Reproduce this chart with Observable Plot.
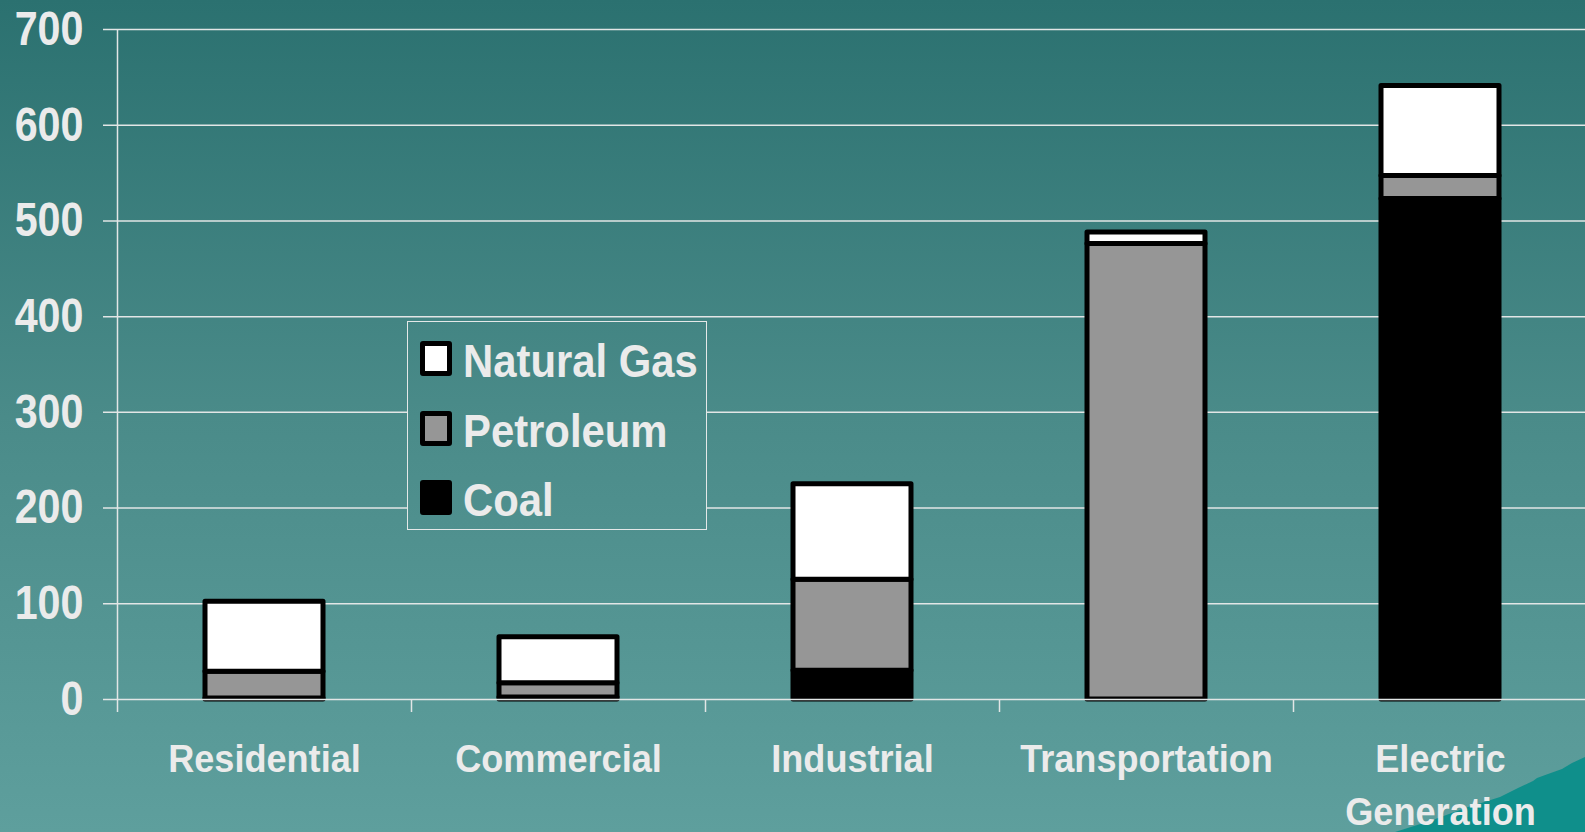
<!DOCTYPE html>
<html>
<head>
<meta charset="utf-8">
<script src="https://cdn.jsdelivr.net/npm/d3@7"></script>
<script src="https://cdn.jsdelivr.net/npm/@observablehq/plot@0.6"></script>
<style>
  html, body { margin: 0; padding: 0; }
  body {
    width: 1585px; height: 832px; overflow: hidden; position: relative;
    background: linear-gradient(180deg, #2b7170 0%, #4a8b89 50%, #5e9f9d 100%);
    background-attachment: fixed;
    font-family: "Liberation Sans", Arial, sans-serif;
  }
  #deco { position: absolute; left: 0; top: 0; z-index: 0; }
  #chart { position: absolute; left: 0; top: 0; z-index: 1; }
  #chart svg { overflow: visible; }
  #legend {
    position: absolute; z-index: 2;
    left: 407px; top: 321px; width: 298px; height: 207px;
    border: 1.5px solid #e4e8e8;
    background: linear-gradient(180deg, #2b7170 0%, #4a8b89 50%, #5e9f9d 100%);
    background-attachment: fixed;
    background-size: 1585px 832px;
  }
  .lg-item { position: absolute; left: 12px; height: 36px; }
  .lg-sw {
    position: absolute; left: 0; top: 0; width: 22px; height: 25px;
    border: 5px solid #000; border-radius: 3px;
  }
  .lg-tx {
    position: absolute; left: 43px; top: -4px; white-space: nowrap;
    font-weight: bold; font-size: 47px; color: #ebebeb; line-height: 47px;
    transform: scaleX(0.89); transform-origin: left center;
  }
</style>
</head>
<body>
<svg id="deco" width="1585" height="832">
  <path d="M1395,832 L1430,821 L1468,807 L1478,804 L1500,797 L1518,788 L1533,781 L1537,778 L1548,774 L1562,769 L1572,763 L1585,757 L1585,832 Z" fill="#0f8f8b"/>
</svg>
<div id="chart"></div>
<div id="legend"></div>
<script>
// ---- data ----
const sectors = ["Residential", "Commercial", "Industrial", "Transportation", "Electric Generation"];
const fuels = ["Natural Gas", "Petroleum", "Coal"];
const coal        = [1, 2, 30, 0, 523];
const petroleum   = [28, 15, 95, 476, 24];
const naturalGas  = [73, 48, 100, 12, 94];
const fuelColors  = ["#ffffff", "#969696", "#000000"];
const yTicks = [0, 100, 200, 300, 400, 500, 600, 700];

const rows = [];
sectors.forEach((s, i) => {
  rows.push({sector: s, fuel: "Coal", value: coal[i]});
  rows.push({sector: s, fuel: "Petroleum", value: petroleum[i]});
  rows.push({sector: s, fuel: "Natural Gas", value: naturalGas[i]});
});

// ---- layout ----
const W = 1585, H = 832;
const x0 = 117, x1 = 1587;
const step = (x1 - x0) / sectors.length;
const textColor = "#ebebeb";
const gridColor = "#e2e6e6";

const chart = Plot.plot({
  width: W,
  height: H,
  marginLeft: 117,
  marginRight: 0,
  marginTop: 29,
  marginBottom: 133,
  style: {background: "transparent", color: textColor, fontFamily: "'Liberation Sans', Arial, sans-serif", fontWeight: "bold", overflow: "visible"},
  x: {domain: sectors, range: [x0, x1], paddingInner: 0.6, paddingOuter: 0.3, label: null},
  y: {domain: [0, 700], label: null},
  color: {domain: fuels, range: fuelColors},
  marks: [
    Plot.ruleY(yTicks.filter(d => d > 0), {y: d => d, stroke: gridColor, strokeWidth: 1.5, insetLeft: -14}),
    Plot.barY(rows, Plot.stackY({
      x: "sector", y: "value", fill: "fuel",
      order: ["Coal", "Petroleum", "Natural Gas"],
      stroke: "#000", strokeWidth: 5, strokeLinejoin: "round"
    })),
    Plot.ruleY([0], {y: d => d, stroke: gridColor, strokeWidth: 1.5, insetLeft: -14}),
    // vertical axis line
    Plot.ruleX(sectors.slice(0, 1), {x: d => d, dx: -step / 2, y1: 700, y2: 0, insetBottom: -13, stroke: gridColor, strokeWidth: 1.5}),
    // category boundary ticks
    Plot.ruleX(sectors.slice(1), {x: d => d, dx: -step / 2, y1: 0, y2: 0, insetBottom: -13, stroke: gridColor, strokeWidth: 1.5}),
    Plot.axisY({ticks: yTicks, tickSize: 0, tickPadding: 34, fontSize: 48, fill: textColor, tickFormat: d => String(d)}),
    Plot.axisX({tickSize: 0, tickPadding: 36, fontSize: 38, lineHeight: 1.37, fill: textColor, tickFormat: d => d.replace(" ", "\n")})
  ]
});

// horizontally condense the tick labels to match the reference lettering
function squeeze(sel, k) {
  chart.querySelectorAll(sel).forEach(t => {
    const tr = t.getAttribute("transform") || "";
    t.setAttribute("transform", tr + ` scale(${k},1)`);
  });
}
squeeze('g[aria-label="y-axis tick label"] text', 0.86);
squeeze('g[aria-label="x-axis tick label"] text', 0.95);

document.getElementById("chart").appendChild(chart);

// ---- legend ----
const legend = document.getElementById("legend");
fuels.forEach((f, i) => {
  const item = document.createElement("div");
  item.className = "lg-item";
  item.style.top = (19 + i * 69.5) + "px";
  const sw = document.createElement("div");
  sw.className = "lg-sw";
  sw.style.background = fuelColors[fuels.indexOf(f)];
  const tx = document.createElement("div");
  tx.className = "lg-tx";
  tx.textContent = f;
  item.appendChild(sw);
  item.appendChild(tx);
  legend.appendChild(item);
});
</script>
</body>
</html>
